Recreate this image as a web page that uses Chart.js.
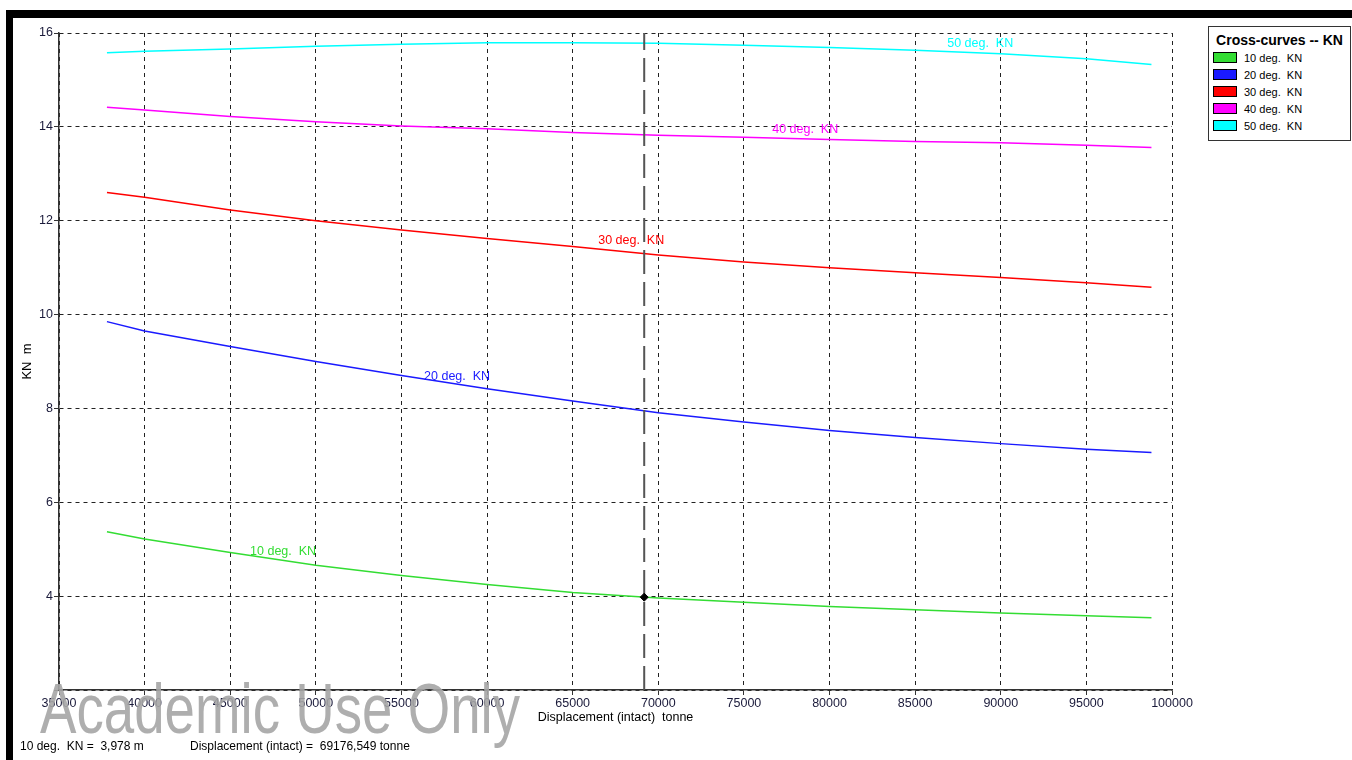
<!DOCTYPE html>
<html>
<head>
<meta charset="utf-8">
<script src="https://cdn.jsdelivr.net/npm/chart.js@4"></script>
<style>
  body { margin: 0; background: #fff; font-family: "Liberation Sans", Arial, sans-serif; }
  #wrap { position: relative; width: 1352px; height: 760px; overflow: hidden; background: #fff; }
  #chart { position: absolute; left: 0; top: 0; }
  .bar { position: absolute; background: #000; }
  #legend { position: absolute; left: 1208px; top: 26px; width: 141px; height: 113px; border: 1px solid #333; background: #fff; }
  #legend .title { font-weight: bold; font-size: 14px; text-align: center; margin-top: 5px; color: #000; }
  #legend .item { position: absolute; left: 4px; font-size: 11px; height: 12px; line-height: 12px; white-space: pre; }
  #legend .box { display: inline-block; width: 22px; height: 9px; border: 1px solid #000; vertical-align: top; margin-right: 7px; }
  #watermark { position: absolute; left: 40px; top: 668px; font-size: 71px; color: rgba(165,165,165,0.9); transform: scaleX(0.77); transform-origin: left top; white-space: nowrap; }
  .status { position: absolute; top: 739px; font-size: 12px; white-space: pre; color: #000; }
</style>
</head>
<body>
<div id="wrap">
  <canvas id="chart" width="1352" height="760"></canvas>
  <div class="bar" style="left:6px;top:10px;width:1346px;height:8px"></div>
  <div class="bar" style="left:6px;top:10px;width:7px;height:750px"></div>
  <div id="legend"><div class="title">Cross-curves -- KN</div></div>
  <div id="watermark">Academic Use Only</div>
  <div class="status" style="left:20px">10 deg.  KN =  3,978 m</div>
  <div class="status" style="left:190px">Displacement (intact) =  69176,549 tonne</div>
</div>
<script>
// displacement (tonne)
const displacement = [37800, 40000, 45000, 50000, 55000, 60000, 65000, 70000, 75000, 80000, 85000, 90000, 95000, 98800];
// KN values (m) for each heel angle
const kn10 = [5.37, 5.22, 4.93, 4.66, 4.44, 4.25, 4.08, 3.96, 3.87, 3.78, 3.71, 3.64, 3.58, 3.54];
const kn20 = [9.85, 9.65, 9.32, 9.00, 8.70, 8.42, 8.16, 7.91, 7.71, 7.53, 7.38, 7.25, 7.13, 7.06];
const kn30 = [12.60, 12.50, 12.23, 12.00, 11.80, 11.62, 11.45, 11.27, 11.12, 11.00, 10.89, 10.79, 10.68, 10.58];
const kn40 = [14.42, 14.36, 14.22, 14.11, 14.02, 13.96, 13.88, 13.82, 13.78, 13.73, 13.69, 13.66, 13.61, 13.56];
const kn50 = [15.58, 15.61, 15.66, 15.72, 15.76, 15.79, 15.79, 15.78, 15.74, 15.69, 15.63, 15.56, 15.45, 15.33];

const seriesNames = ['10 deg.  KN', '20 deg.  KN', '30 deg.  KN', '40 deg.  KN', '50 deg.  KN'];
const seriesColors = ['#33dd33', '#1a1aff', '#ff0000', '#ff00ff', '#00ffff'];
const seriesValues = [kn10, kn20, kn30, kn40, kn50];

// where the curve names sit on the plot (data units)
const labelX = [46160, 56320, 66490, 76650, 86870];
const labelY = [4.94, 8.67, 11.57, 13.95, 15.77];

// selected point
const selX = 69176.549;
const selY = 3.978;

const xTicks = [35000, 100000, 5000];
const yTicks = [2, 16, 2];

const legend = document.getElementById('legend');
seriesNames.forEach((n, i) => {
  const d = document.createElement('div');
  d.className = 'item';
  d.style.top = (25 + i * 17) + 'px';
  d.innerHTML = '<span class="box" style="background:' + seriesColors[i] + '"></span>' + n;
  legend.appendChild(d);
});

const datasets = seriesValues.map((vals, i) => ({
  label: seriesNames[i],
  data: vals.map((v, j) => ({x: displacement[j], y: v})),
  borderColor: seriesColors[i],
  borderWidth: 1.5,
  pointRadius: 0,
  tension: 0,
  order: 3
}));

datasets.push({
  label: 'cursor',
  data: [{x: selX, y: yTicks[0]}, {x: selX, y: yTicks[1]}],
  borderColor: '#555',
  borderWidth: 2,
  borderDash: [24, 8],
  pointRadius: 0,
  order: 2
});
datasets.push({
  label: 'point',
  data: [{x: selX, y: selY}],
  showLine: false,
  pointRadius: 4,
  pointStyle: 'rectRot',
  backgroundColor: '#000',
  borderColor: '#000',
  order: 1
});

const curveLabels = {
  id: 'curveLabels',
  afterDatasetsDraw(chart) {
    const {ctx, scales: {x, y}} = chart;
    ctx.save();
    ctx.font = '12.5px "Liberation Sans", Arial';
    ctx.textBaseline = 'middle';
    ctx.textAlign = 'left';
    seriesNames.forEach((n, i) => {
      ctx.fillStyle = seriesColors[i];
      ctx.fillText(n, x.getPixelForValue(labelX[i]), y.getPixelForValue(labelY[i]));
    });
    ctx.restore();
  }
};

const tickFont = {family: '"Liberation Sans", Arial', size: 12.5};

new Chart(document.getElementById('chart'), {
  type: 'line',
  data: {datasets: datasets},
  options: {
    responsive: false,
    animation: false,
    devicePixelRatio: 1,
    layout: {padding: {left: 0, top: 33, right: 180, bottom: 0}},
    plugins: {legend: {display: false}, tooltip: {enabled: false}},
    scales: {
      x: {
        type: 'linear',
        min: xTicks[0],
        max: xTicks[1],
        ticks: {stepSize: xTicks[2], font: tickFont, color: '#1a1a3a', padding: 1, maxRotation: 0,
          callback: v => String(v)},
        grid: {color: '#222', lineWidth: 1, tickLength: 5, tickColor: '#333'},
        border: {display: true, color: '#333', width: 1.5, dash: [4, 4]},
        title: {display: true, text: 'Displacement (intact)  tonne', font: tickFont, color: '#000',
          padding: {top: 0, bottom: 35}},
        afterFit(s) { s.height = 70; }
      },
      y: {
        type: 'linear',
        min: yTicks[0],
        max: yTicks[1],
        ticks: {stepSize: yTicks[2], font: tickFont, color: '#1a1a3a', padding: 1,
          callback: v => v === yTicks[0] ? '' : String(v)},
        grid: {color: '#222', lineWidth: 1, tickLength: 5, tickColor: '#333'},
        border: {display: true, color: '#333', width: 1.5, dash: [4, 4]},
        title: {display: true, text: 'KN  m', font: {family: '"Liberation Sans", Arial', size: 13}, color: '#000',
          padding: {top: 20, bottom: 0}},
        afterFit(s) { s.width = 59; }
      }
    }
  },
  plugins: [curveLabels]
});
</script>
</body>
</html>
